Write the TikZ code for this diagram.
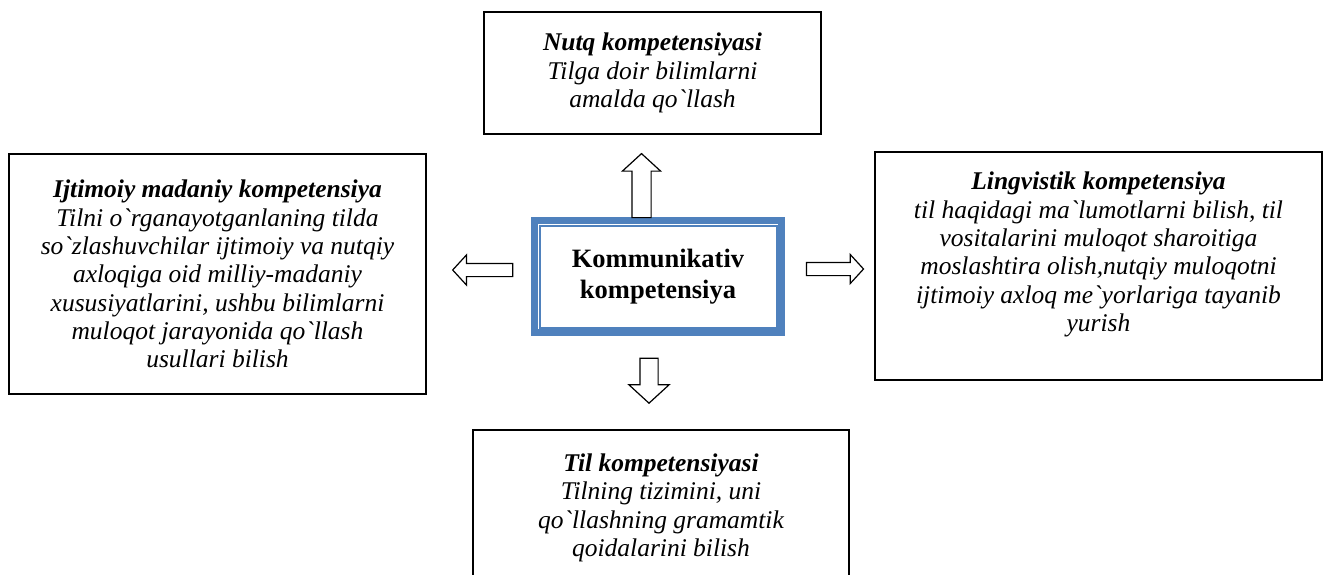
\documentclass[tikz,border=0pt]{standalone}
\usepackage{fontspec}
\setmainfont{Liberation Serif}[Ligatures=TeXOff]
\usetikzlibrary{calc}
\usetikzlibrary{shapes.arrows}
\definecolor{kblue}{RGB}{79,129,189}
\newcommand{\bqt}{{\char"60\relax}}
\tikzset{
	compbox/.style={draw, line width=1.4pt, rectangle, align=center, inner sep=4pt, font=\fontsize{25.5}{28.3}\selectfont\itshape},
	mainbox/.style={draw=kblue, line width=7pt, rectangle, align=center, font=\fontsize{26.5}{31}\selectfont\bfseries},
	blockarrow/.style={single arrow, draw, fill=white, line width=1.2pt, inner xsep=0pt, single arrow tip angle=95}
}

\begin{document}
\begin{tikzpicture}[x=1pt,y=-1pt]
		\useasboundingbox (0,0) rectangle (1325,574);
		\node[mainbox, minimum width=247pt, minimum height=112pt] (KK) at (658,276.5) {Kommunikativ\\kompetensiya};
		\draw[kblue, line width=2pt] ($(KK.north west)+(8.5,8.5)$) rectangle ($(KK.south east)+(-8.5,-8.5)$);
		
		\node[compbox, minimum width=337pt, minimum height=122pt] (nutq) at (652.5,73) {\textbf{Nutq kompetensiyasi}\\Tilga doir bilimlarni\\amalda qo\bqt llash};
		\node[compbox, minimum width=417pt, minimum height=240pt] (ijtimoiy) at (217.5,274) {\textbf{Ijtimoiy madaniy kompetensiya}\\Tilni o\bqt rganayotganlaning tilda\\so\bqt zlashuvchilar ijtimoiy va nutqiy\\axloqiga oid milliy-madaniy\\xususiyatlarini, ushbu bilimlarni\\muloqot jarayonida qo\bqt llash\\usullari bilish};
		\node[compbox, minimum width=447pt, minimum height=228pt] (lingv) at (1098.5,266) {\textbf{Lingvistik kompetensiya}\\til haqidagi ma\bqt lumotlarni bilish, til\\vositalarini muloqot sharoitiga\\moslashtira olish,nutqiy muloqotni\\ijtimoiy axloq me\bqt yorlariga tayanib\\yurish\\\mbox{}};
		\node[compbox, minimum width=376pt, minimum height=156pt] (til) at (661,508) {\textbf{Til kompetensiyasi}\\Tilning tizimini, uni\\qo\bqt llashning gramamtik\\qoidalarini bilish};
		
		\node[blockarrow, rotate=90, minimum height=64pt, inner ysep=9pt, single arrow head extend=9.5pt] (upArr) at (641.5,190) {};
		\node[blockarrow, rotate=270, minimum height=45pt, inner ysep=8.5pt, single arrow head extend=11pt] (downArr) at (649,376.5) {};
		\node[blockarrow, rotate=180, minimum height=60pt, inner ysep=6pt, single arrow head extend=8.5pt] (leftArr) at (485.7,270) {};
		\node[blockarrow, minimum height=57pt, inner ysep=6pt, single arrow head extend=8pt] (rightArr) at (832,269) {};
	\end{tikzpicture}
\end{document}
